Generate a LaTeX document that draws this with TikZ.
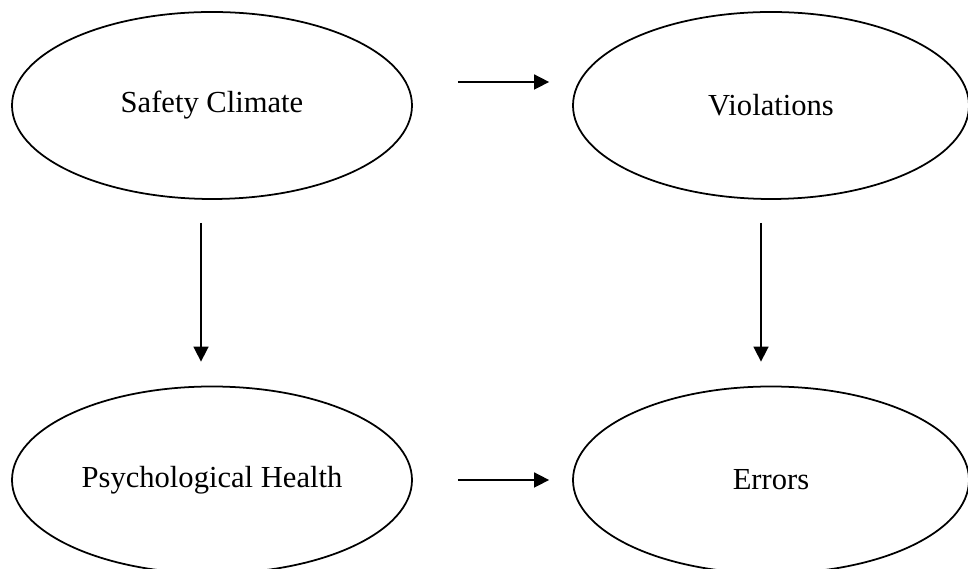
\documentclass[tikz,border=0pt]{standalone}
\usepackage{fontspec}
\setmainfont{Liberation Serif}
\usepackage{tikz}
\usetikzlibrary{
  shapes.geometric,
  arrows.meta
}

\begin{document}
\begin{tikzpicture}[
  construct/.style={ellipse, draw=black, line width=1pt, minimum width=8cm, minimum height=3.74cm, font=\fontsize{17.4}{20}\selectfont, align=center},
  arr/.style={-{Triangle[length=0.3cm, width=0.3cm]}, line width=0.9pt, black, shorten <=0.9cm, shorten >=0.46cm},
  varr/.style={-{Triangle[length=0.3cm, width=0.3cm]}, line width=0.9pt, black, shorten <=0.46cm, shorten >=0.48cm}
]
  \useasboundingbox (0,0) rectangle (19.36,11.38);

  \node[construct] (climate) at (4.24,9.27) {Safety Climate};
  \node[construct, minimum width=7.92cm] (viol) at (15.42,9.27) {Violations};
  \node[construct] (health) at (4.24,1.78) {Psychological Health};
  \node[construct, minimum width=7.92cm] (errors) at (15.42,1.78) {Errors};

  \draw[arr] ([yshift=0.47cm]climate.east) -- ([yshift=0.47cm]viol.west);
  \draw[arr] (health.east) -- (errors.west);
  \draw[varr] ([xshift=-0.22cm]climate.south) -- ([xshift=-0.22cm]health.north);
  \draw[varr] ([xshift=-0.2cm]viol.south) -- ([xshift=-0.2cm]errors.north);
\end{tikzpicture}
\end{document}
